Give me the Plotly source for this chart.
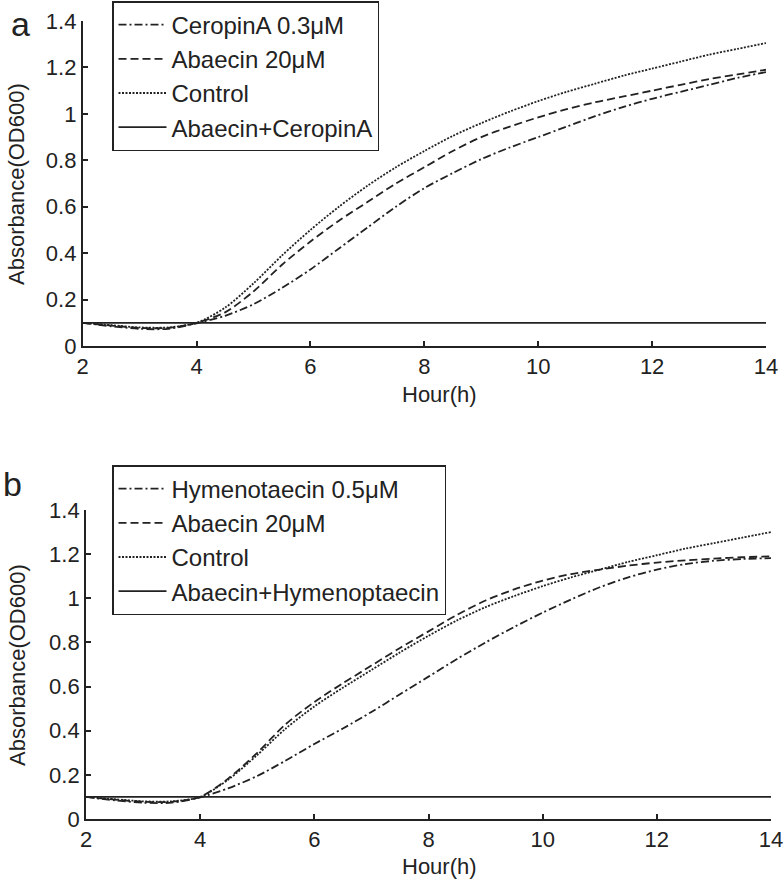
import plotly.graph_objects as go

hours = [2, 2.5, 3, 3.5, 4, 4.5, 5, 5.5, 6, 6.5, 7, 7.5, 8, 8.5, 9, 9.5, 10,
         10.5, 11, 11.5, 12, 12.5, 13, 13.5, 14]

# Panel a
a_ceropin = [0.100, 0.085, 0.074, 0.074, 0.098, 0.13, 0.18, 0.25, 0.33, 0.42, 0.51,
             0.60, 0.68, 0.745, 0.805, 0.855, 0.90, 0.945, 0.99, 1.03, 1.065, 1.095,
             1.125, 1.155, 1.18]
a_abaecin = [0.100, 0.088, 0.078, 0.078, 0.100, 0.145, 0.235, 0.35, 0.45, 0.54, 0.62,
             0.70, 0.77, 0.84, 0.90, 0.945, 0.985, 1.02, 1.05, 1.075, 1.10, 1.125,
             1.15, 1.17, 1.19]
a_control = [0.100, 0.090, 0.080, 0.080, 0.100, 0.165, 0.27, 0.39, 0.50, 0.60, 0.69,
             0.77, 0.84, 0.905, 0.96, 1.01, 1.055, 1.095, 1.13, 1.165, 1.195, 1.225,
             1.255, 1.28, 1.305]
a_combo = [0.100] * 25

# Panel b
b_hymeno = [0.100, 0.085, 0.074, 0.074, 0.098, 0.14, 0.195, 0.265, 0.34, 0.41, 0.485,
            0.565, 0.645, 0.725, 0.80, 0.87, 0.935, 0.995, 1.05, 1.095, 1.13, 1.155,
            1.17, 1.178, 1.182]
b_abaecin = [0.100, 0.088, 0.078, 0.078, 0.100, 0.185, 0.30, 0.43, 0.53, 0.615, 0.695,
             0.775, 0.85, 0.925, 0.99, 1.04, 1.08, 1.11, 1.13, 1.148, 1.162, 1.172,
             1.18, 1.186, 1.19]
b_control = [0.100, 0.090, 0.080, 0.080, 0.100, 0.18, 0.29, 0.41, 0.51, 0.595, 0.675,
             0.755, 0.83, 0.90, 0.96, 1.01, 1.055, 1.095, 1.13, 1.165, 1.195, 1.225,
             1.25, 1.275, 1.30]
b_combo = [0.100] * 25

names_a = ["CeropinA 0.3\u03bcM", "Abaecin 20\u03bcM", "Control", "Abaecin+CeropinA"]
names_b = ["Hymenotaecin 0.5\u03bcM", "Abaecin 20\u03bcM", "Control", "Abaecin+Hymenoptaecin"]
dashes = ["8px,3px,2px,3px", "8px,4px", "2px,1.5px", "solid"]

x_ticks = [2, 4, 6, 8, 10, 12, 14]
y_ticks = [0, 0.2, 0.4, 0.6, 0.8, 1, 1.2, 1.4]
y_ticktext = ["0", "0.2", "0.4", "0.6", "0.8", "1", "1.2", "1.4"]

W, H = 784, 883
FONT = "Liberation Sans, Arial, Helvetica, sans-serif"
INK = "#222222"

fig = go.Figure()

for ys, nm, ds in zip([a_ceropin, a_abaecin, a_control, a_combo], names_a, dashes):
    fig.add_trace(go.Scatter(x=hours, y=ys, name=nm, mode="lines",
                             line=dict(color=INK, width=1.8, dash=ds, shape="spline", smoothing=0.8),
                             xaxis="x", yaxis="y", legend="legend"))
for ys, nm, ds in zip([b_hymeno, b_abaecin, b_control, b_combo], names_b, dashes):
    fig.add_trace(go.Scatter(x=hours, y=ys, name=nm, mode="lines",
                             line=dict(color=INK, width=1.8, dash=ds, shape="spline", smoothing=0.8),
                             xaxis="x2", yaxis="y2", legend="legend2"))

def px_x(p):
    return p / W

def px_y(p):
    return 1 - p / H

axis_common = dict(showline=True, linecolor=INK, linewidth=1.8, ticks="inside",
                   ticklen=5, tickwidth=1.5, tickcolor=INK, showgrid=False,
                   zeroline=False, automargin=False,
                   tickfont=dict(family=FONT, size=22, color=INK))

legend_common = dict(xanchor="left", yanchor="top", bgcolor="white",
                     bordercolor=INK, borderwidth=1.5,
                     font=dict(family=FONT, size=24, color=INK), itemwidth=48,
                     tracegroupgap=0)

fig.update_layout(
    width=W, height=H,
    margin=dict(l=0, r=0, t=0, b=0),
    paper_bgcolor="white", plot_bgcolor="white",
    font=dict(family=FONT, color=INK),
    xaxis=dict(domain=[px_x(82.7), px_x(766)], range=[2, 14], tickvals=x_ticks,
               anchor="y", **axis_common),
    yaxis=dict(domain=[px_y(346), px_y(21)], range=[0, 1.4], tickvals=y_ticks,
               ticktext=y_ticktext, anchor="x", **axis_common),
    xaxis2=dict(domain=[px_x(86), px_x(771)], range=[2, 14], tickvals=x_ticks,
                anchor="y2", **axis_common),
    yaxis2=dict(domain=[px_y(819), px_y(510)], range=[0, 1.4], tickvals=y_ticks,
                ticktext=y_ticktext, anchor="x2", **axis_common),
    legend=dict(x=px_x(112), y=px_y(1), **legend_common),
    legend2=dict(x=px_x(112), y=px_y(465), **legend_common),
    showlegend=True,
    annotations=[
        dict(text="a", x=px_x(9), y=px_y(24), xref="paper", yref="paper",
             xanchor="left", yanchor="middle", showarrow=False,
             font=dict(family=FONT, size=34, color=INK)),
        dict(text="b", x=px_x(1), y=px_y(484), xref="paper", yref="paper",
             xanchor="left", yanchor="middle", showarrow=False,
             font=dict(family=FONT, size=34, color=INK)),
        dict(text="Absorbance(OD600)", x=px_x(17), y=px_y(184), xref="paper", yref="paper",
             xanchor="center", yanchor="middle", textangle=-90, showarrow=False,
             font=dict(family=FONT, size=22, color=INK)),
        dict(text="Absorbance(OD600)", x=px_x(17), y=px_y(665), xref="paper", yref="paper",
             xanchor="center", yanchor="middle", textangle=-90, showarrow=False,
             font=dict(family=FONT, size=22, color=INK)),
        dict(text="Hour(h)", x=px_x(439), y=px_y(394), xref="paper", yref="paper",
             xanchor="center", yanchor="middle", showarrow=False,
             font=dict(family=FONT, size=22, color=INK)),
        dict(text="Hour(h)", x=px_x(439), y=px_y(866), xref="paper", yref="paper",
             xanchor="center", yanchor="middle", showarrow=False,
             font=dict(family=FONT, size=22, color=INK)),
    ],
)

fig.write_html("out.html", config={"displayModeBar": False},
               post_script="document.body.style.margin='0px';document.body.style.overflow='hidden';")
